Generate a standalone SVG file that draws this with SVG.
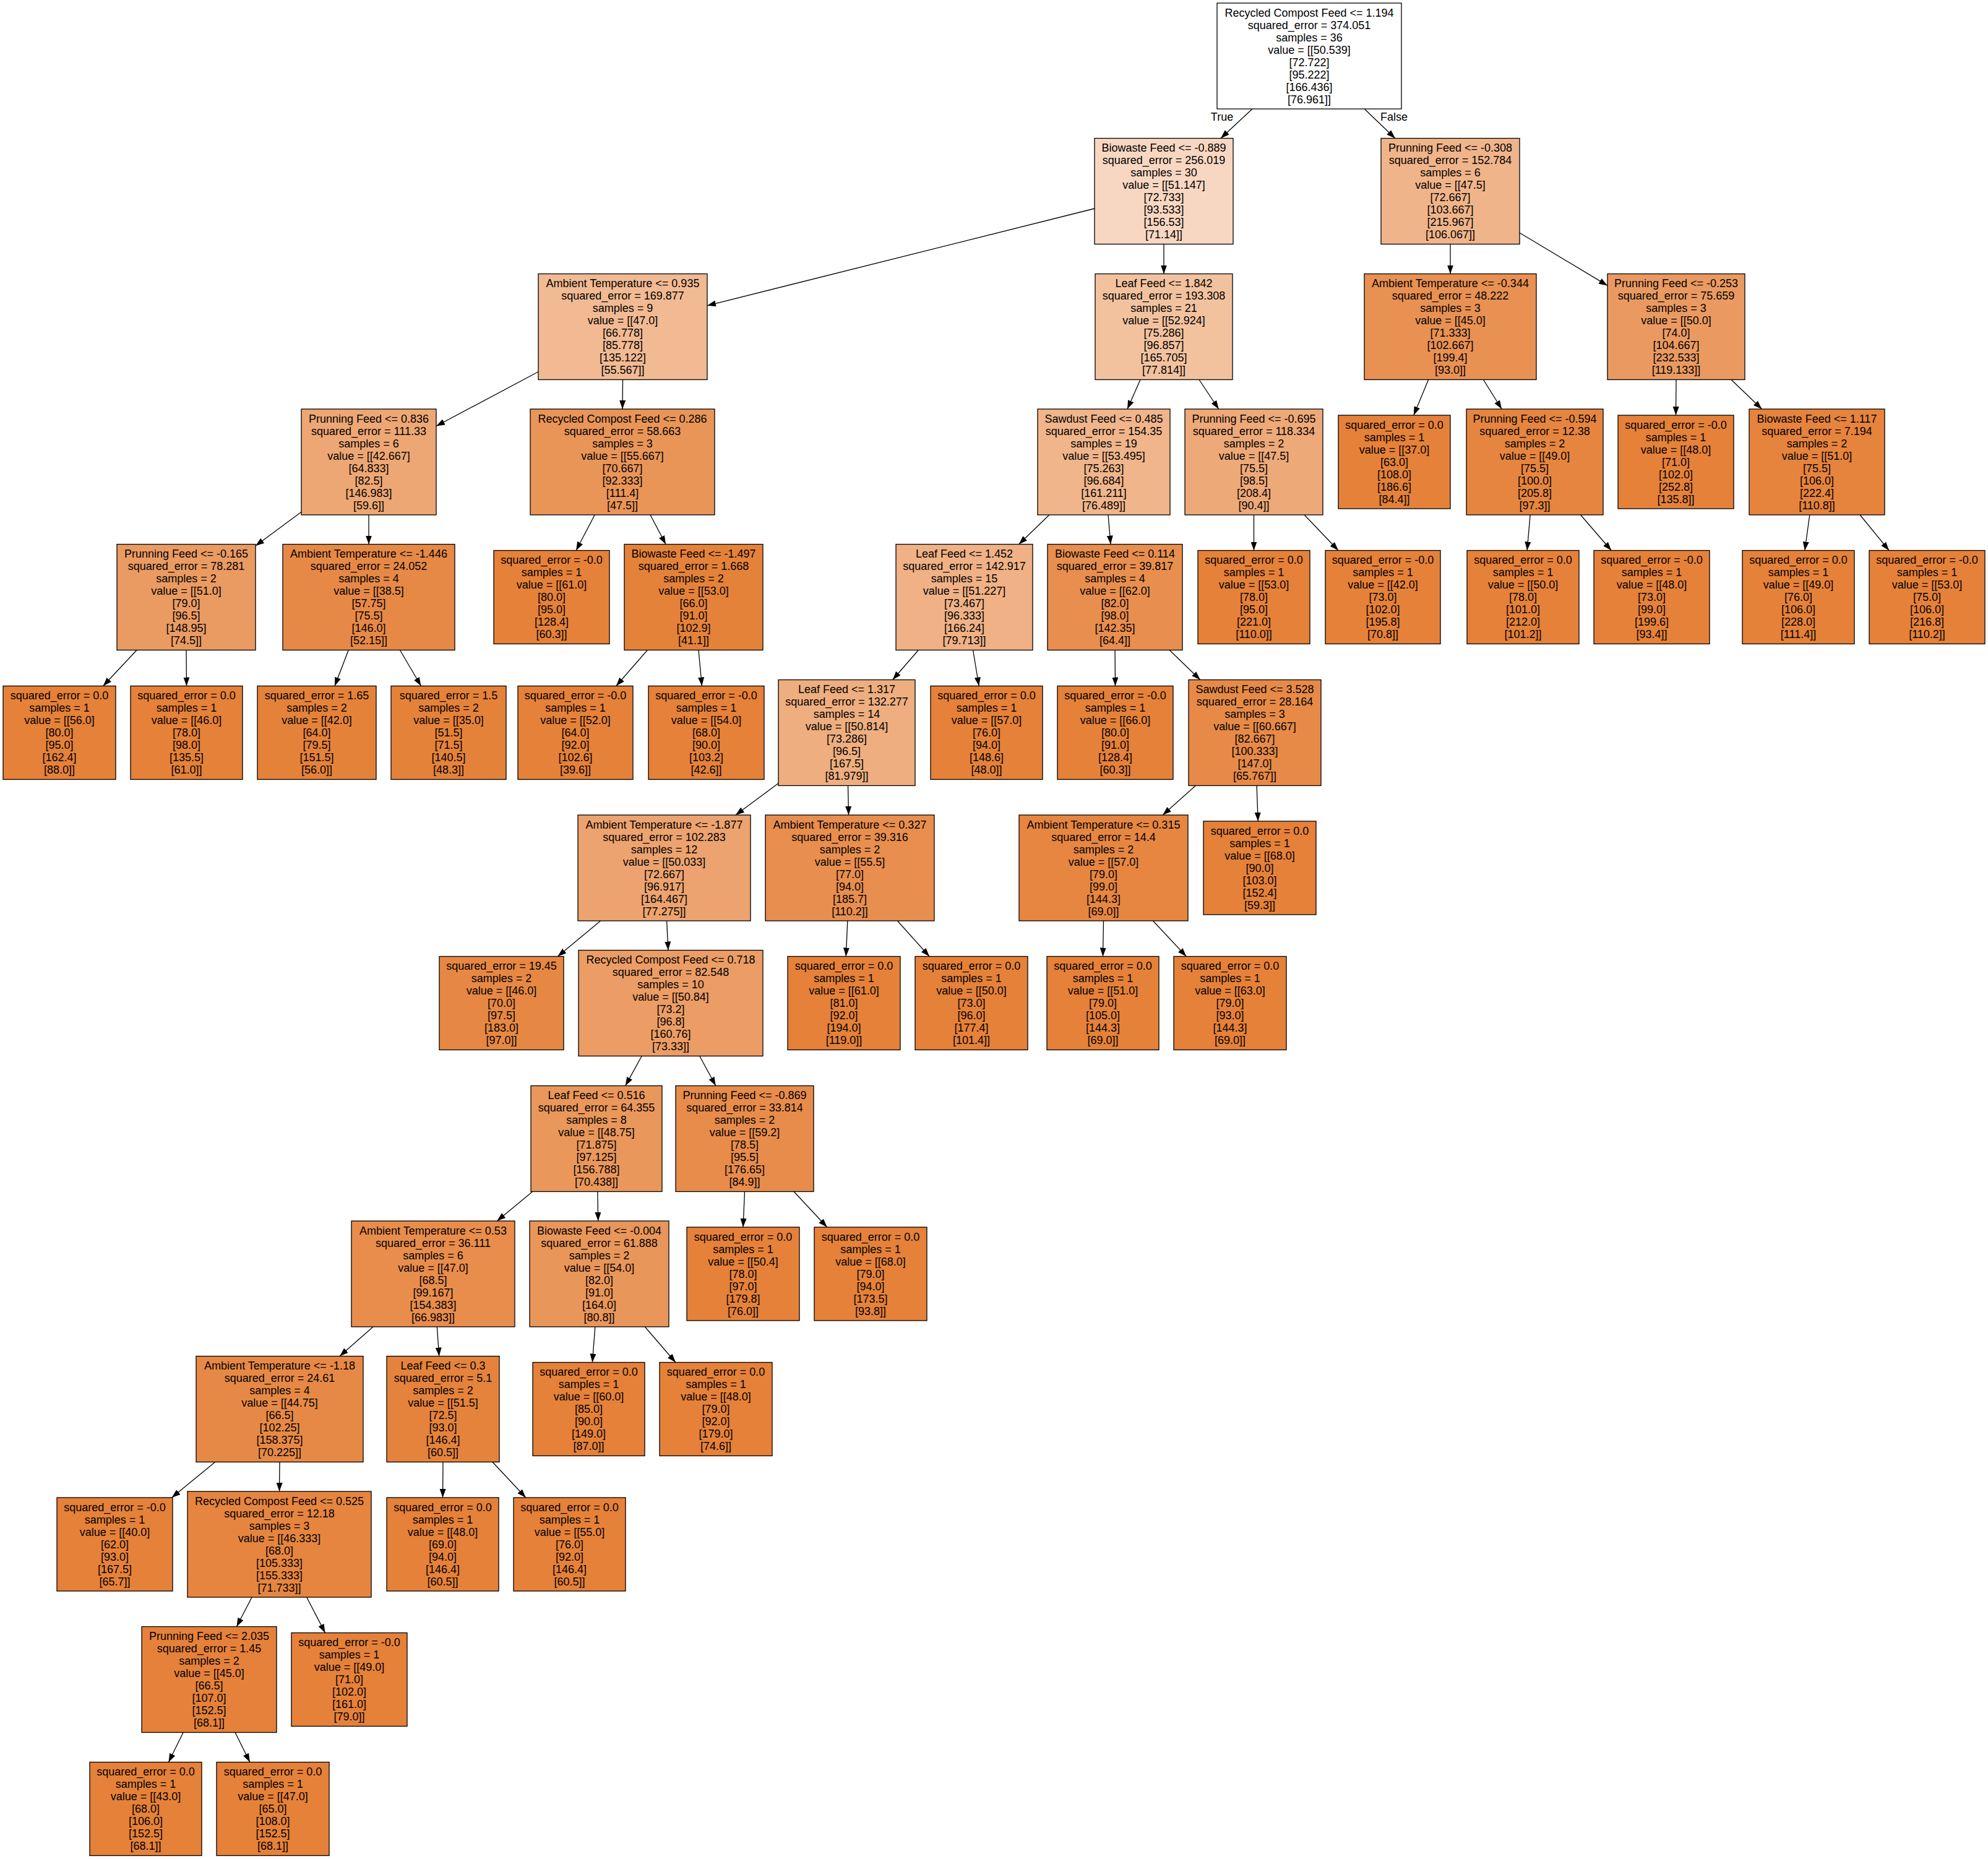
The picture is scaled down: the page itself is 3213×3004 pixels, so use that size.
<svg xmlns="http://www.w3.org/2000/svg" width="3213" height="3004" viewBox="0 0 3213 3004">
<style>
rect.b{stroke:#000;stroke-width:1.3}
text{font-family:"Liberation Sans",Arial,Helvetica,sans-serif;font-size:18px;text-anchor:middle;fill:#000}
line.e{stroke:#000;stroke-width:1.3;fill:none;marker-end:url(#ah)}
</style>
<defs>
<marker id="ah" markerUnits="userSpaceOnUse" markerWidth="15" markerHeight="11" refX="14" refY="5" orient="auto"><path d="M0,0 L14,5 L0,10 z" fill="#000"/></marker>
</defs>
<rect x="0" y="0" width="3213" height="3004" fill="#fff"/>
<g id="edges">
<line class="e" x1="2024" y1="176" x2="1973" y2="223.5"/>
<line class="e" x1="2205.2" y1="176" x2="2254.8" y2="223.5"/>
<line class="e" x1="1769" y1="337" x2="1143" y2="493.8"/>
<line class="e" x1="1881" y1="394.5" x2="1881" y2="442.5"/>
<line class="e" x1="2344" y1="394.5" x2="2344" y2="442.5"/>
<line class="e" x1="2456" y1="376.2" x2="2598" y2="461.4"/>
<line class="e" x1="870" y1="600.7" x2="705" y2="688.5"/>
<line class="e" x1="1006.5" y1="613.5" x2="1006" y2="661"/>
<line class="e" x1="1843" y1="613.5" x2="1822" y2="661"/>
<line class="e" x1="1938" y1="613.5" x2="1969.6" y2="661"/>
<line class="e" x1="2308.6" y1="613.5" x2="2284.8" y2="671"/>
<line class="e" x1="2397.4" y1="613.5" x2="2427.1" y2="661"/>
<line class="e" x1="2709" y1="613.5" x2="2708.5" y2="671"/>
<line class="e" x1="2798" y1="613.5" x2="2847.5" y2="661"/>
<line class="e" x1="487" y1="827.2" x2="413" y2="882"/>
<line class="e" x1="596" y1="832" x2="596" y2="879.5"/>
<line class="e" x1="961.2" y1="832" x2="931.1" y2="889.5"/>
<line class="e" x1="1051" y1="832" x2="1076" y2="879.5"/>
<line class="e" x1="1695.8" y1="832" x2="1646.7" y2="879.5"/>
<line class="e" x1="1791" y1="832" x2="1795" y2="879.5"/>
<line class="e" x1="2026.5" y1="832" x2="2026.5" y2="889.5"/>
<line class="e" x1="2108.1" y1="832" x2="2163" y2="889.5"/>
<line class="e" x1="2473.1" y1="832" x2="2468.1" y2="889.5"/>
<line class="e" x1="2554.5" y1="832" x2="2604.2" y2="889.5"/>
<line class="e" x1="2924.8" y1="832" x2="2916.9" y2="889.5"/>
<line class="e" x1="3006.1" y1="832" x2="3053" y2="889.5"/>
<line class="e" x1="221" y1="1050.5" x2="166.7" y2="1108.5"/>
<line class="e" x1="301" y1="1050.5" x2="301.5" y2="1108.5"/>
<line class="e" x1="563.2" y1="1050.5" x2="541" y2="1108.5"/>
<line class="e" x1="646.4" y1="1050.5" x2="680.5" y2="1108.5"/>
<line class="e" x1="1046.4" y1="1050.5" x2="995.8" y2="1108.5"/>
<line class="e" x1="1129" y1="1050.5" x2="1134.4" y2="1108.5"/>
<line class="e" x1="1484.3" y1="1050.5" x2="1442.7" y2="1098.5"/>
<line class="e" x1="1572.6" y1="1050.5" x2="1582.1" y2="1108.5"/>
<line class="e" x1="1802" y1="1050.5" x2="1802.5" y2="1108.5"/>
<line class="e" x1="1890.2" y1="1050.5" x2="1939.8" y2="1098.5"/>
<line class="e" x1="1258" y1="1265.8" x2="1188.9" y2="1317"/>
<line class="e" x1="1370.5" y1="1269.5" x2="1371.5" y2="1317"/>
<line class="e" x1="1932.3" y1="1269.5" x2="1879.2" y2="1317"/>
<line class="e" x1="2031.1" y1="1269.5" x2="2033.2" y2="1327"/>
<line class="e" x1="970.6" y1="1488" x2="901.4" y2="1545.5"/>
<line class="e" x1="1077.6" y1="1488" x2="1079.9" y2="1535.5"/>
<line class="e" x1="1369.8" y1="1488" x2="1367.3" y2="1545.5"/>
<line class="e" x1="1450.4" y1="1488" x2="1502.1" y2="1545.5"/>
<line class="e" x1="1783.5" y1="1488" x2="1782.5" y2="1545.5"/>
<line class="e" x1="1863.5" y1="1488" x2="1917.3" y2="1545.5"/>
<line class="e" x1="1037.2" y1="1706.5" x2="1010.8" y2="1754.5"/>
<line class="e" x1="1130.7" y1="1706.5" x2="1156.8" y2="1754.5"/>
<line class="e" x1="860.7" y1="1925.5" x2="803.3" y2="1973"/>
<line class="e" x1="965.8" y1="1925.5" x2="966.7" y2="1973"/>
<line class="e" x1="1203.5" y1="1925.5" x2="1201" y2="1983"/>
<line class="e" x1="1283.1" y1="1925.5" x2="1336.7" y2="1983"/>
<line class="e" x1="603" y1="2144" x2="549" y2="2191.5"/>
<line class="e" x1="706.3" y1="2144" x2="709.7" y2="2191.5"/>
<line class="e" x1="961.8" y1="2144" x2="957.4" y2="2201.5"/>
<line class="e" x1="1042.3" y1="2144" x2="1091.9" y2="2201.5"/>
<line class="e" x1="347.7" y1="2362.5" x2="277.6" y2="2420"/>
<line class="e" x1="452" y1="2362.5" x2="451.5" y2="2410"/>
<line class="e" x1="716" y1="2362.5" x2="715.5" y2="2420"/>
<line class="e" x1="796" y1="2362.5" x2="849.8" y2="2420"/>
<line class="e" x1="407.1" y1="2581" x2="382.4" y2="2628.5"/>
<line class="e" x1="495.7" y1="2581" x2="525.5" y2="2638.5"/>
<line class="e" x1="296.1" y1="2799.5" x2="272.5" y2="2847.5"/>
<line class="e" x1="380.1" y1="2799.5" x2="403.8" y2="2847.5"/>
<text x="1975" y="195">True</text>
<text x="2253" y="195">False</text>
</g>
<g id="n0"><rect class="b" x="1967" y="5" width="298" height="171" fill="#ffffff"/><text x="2116" y="26.5"><tspan>Recycled Compost Feed &lt;= 1.194</tspan><tspan x="2116" dy="20">squared_error = 374.051</tspan><tspan x="2116" dy="20">samples = 36</tspan><tspan x="2116" dy="20">value = [[50.539]</tspan><tspan x="2116" dy="20">[72.722]</tspan><tspan x="2116" dy="20">[95.222]</tspan><tspan x="2116" dy="20">[166.436]</tspan><tspan x="2116" dy="20">[76.961]]</tspan></text></g>
<g id="n1"><rect class="b" x="1769" y="223.5" width="224" height="171" fill="#f7d7c1"/><text x="1881" y="245"><tspan>Biowaste Feed &lt;= -0.889</tspan><tspan x="1881" dy="20">squared_error = 256.019</tspan><tspan x="1881" dy="20">samples = 30</tspan><tspan x="1881" dy="20">value = [[51.147]</tspan><tspan x="1881" dy="20">[72.733]</tspan><tspan x="1881" dy="20">[93.533]</tspan><tspan x="1881" dy="20">[156.53]</tspan><tspan x="1881" dy="20">[71.14]]</tspan></text></g>
<g id="n2"><rect class="b" x="2232" y="223.5" width="224" height="171" fill="#f0b48a"/><text x="2344" y="245"><tspan>Prunning Feed &lt;= -0.308</tspan><tspan x="2344" dy="20">squared_error = 152.784</tspan><tspan x="2344" dy="20">samples = 6</tspan><tspan x="2344" dy="20">value = [[47.5]</tspan><tspan x="2344" dy="20">[72.667]</tspan><tspan x="2344" dy="20">[103.667]</tspan><tspan x="2344" dy="20">[215.967]</tspan><tspan x="2344" dy="20">[106.067]]</tspan></text></g>
<g id="n3"><rect class="b" x="870" y="442.5" width="273" height="171" fill="#f1ba93"/><text x="1006.5" y="464"><tspan>Ambient Temperature &lt;= 0.935</tspan><tspan x="1006.5" dy="20">squared_error = 169.877</tspan><tspan x="1006.5" dy="20">samples = 9</tspan><tspan x="1006.5" dy="20">value = [[47.0]</tspan><tspan x="1006.5" dy="20">[66.778]</tspan><tspan x="1006.5" dy="20">[85.778]</tspan><tspan x="1006.5" dy="20">[135.122]</tspan><tspan x="1006.5" dy="20">[55.567]]</tspan></text></g>
<g id="n4"><rect class="b" x="1770" y="442.5" width="222" height="171" fill="#f2c29f"/><text x="1881" y="464"><tspan>Leaf Feed &lt;= 1.842</tspan><tspan x="1881" dy="20">squared_error = 193.308</tspan><tspan x="1881" dy="20">samples = 21</tspan><tspan x="1881" dy="20">value = [[52.924]</tspan><tspan x="1881" dy="20">[75.286]</tspan><tspan x="1881" dy="20">[96.857]</tspan><tspan x="1881" dy="20">[165.705]</tspan><tspan x="1881" dy="20">[77.814]]</tspan></text></g>
<g id="n5"><rect class="b" x="2205" y="442.5" width="278" height="171" fill="#e89153"/><text x="2344" y="464"><tspan>Ambient Temperature &lt;= -0.344</tspan><tspan x="2344" dy="20">squared_error = 48.222</tspan><tspan x="2344" dy="20">samples = 3</tspan><tspan x="2344" dy="20">value = [[45.0]</tspan><tspan x="2344" dy="20">[71.333]</tspan><tspan x="2344" dy="20">[102.667]</tspan><tspan x="2344" dy="20">[199.4]</tspan><tspan x="2344" dy="20">[93.0]]</tspan></text></g>
<g id="n6"><rect class="b" x="2598" y="442.5" width="222" height="171" fill="#ea9a61"/><text x="2709" y="464"><tspan>Prunning Feed &lt;= -0.253</tspan><tspan x="2709" dy="20">squared_error = 75.659</tspan><tspan x="2709" dy="20">samples = 3</tspan><tspan x="2709" dy="20">value = [[50.0]</tspan><tspan x="2709" dy="20">[74.0]</tspan><tspan x="2709" dy="20">[104.667]</tspan><tspan x="2709" dy="20">[232.533]</tspan><tspan x="2709" dy="20">[119.133]]</tspan></text></g>
<g id="n7"><rect class="b" x="487" y="661" width="218" height="171" fill="#eda774"/><text x="596" y="682.5"><tspan>Prunning Feed &lt;= 0.836</tspan><tspan x="596" dy="20">squared_error = 111.33</tspan><tspan x="596" dy="20">samples = 6</tspan><tspan x="596" dy="20">value = [[42.667]</tspan><tspan x="596" dy="20">[64.833]</tspan><tspan x="596" dy="20">[82.5]</tspan><tspan x="596" dy="20">[146.983]</tspan><tspan x="596" dy="20">[59.6]]</tspan></text></g>
<g id="n8"><rect class="b" x="857" y="661" width="298" height="171" fill="#e99558"/><text x="1006" y="682.5"><tspan>Recycled Compost Feed &lt;= 0.286</tspan><tspan x="1006" dy="20">squared_error = 58.663</tspan><tspan x="1006" dy="20">samples = 3</tspan><tspan x="1006" dy="20">value = [[55.667]</tspan><tspan x="1006" dy="20">[70.667]</tspan><tspan x="1006" dy="20">[92.333]</tspan><tspan x="1006" dy="20">[111.4]</tspan><tspan x="1006" dy="20">[47.5]]</tspan></text></g>
<g id="n9"><rect class="b" x="1677" y="661" width="214" height="171" fill="#f0b58b"/><text x="1784" y="682.5"><tspan>Sawdust Feed &lt;= 0.485</tspan><tspan x="1784" dy="20">squared_error = 154.35</tspan><tspan x="1784" dy="20">samples = 19</tspan><tspan x="1784" dy="20">value = [[53.495]</tspan><tspan x="1784" dy="20">[75.263]</tspan><tspan x="1784" dy="20">[96.684]</tspan><tspan x="1784" dy="20">[161.211]</tspan><tspan x="1784" dy="20">[76.489]]</tspan></text></g>
<g id="n10"><rect class="b" x="1915" y="661" width="223" height="171" fill="#eda978"/><text x="2026.5" y="682.5"><tspan>Prunning Feed &lt;= -0.695</tspan><tspan x="2026.5" dy="20">squared_error = 118.334</tspan><tspan x="2026.5" dy="20">samples = 2</tspan><tspan x="2026.5" dy="20">value = [[47.5]</tspan><tspan x="2026.5" dy="20">[75.5]</tspan><tspan x="2026.5" dy="20">[98.5]</tspan><tspan x="2026.5" dy="20">[208.4]</tspan><tspan x="2026.5" dy="20">[90.4]]</tspan></text></g>
<g id="n11"><rect class="b" x="2163" y="671" width="181" height="151" fill="#e58139"/><text x="2253.5" y="692.5"><tspan>squared_error = 0.0</tspan><tspan x="2253.5" dy="20">samples = 1</tspan><tspan x="2253.5" dy="20">value = [[37.0]</tspan><tspan x="2253.5" dy="20">[63.0]</tspan><tspan x="2253.5" dy="20">[108.0]</tspan><tspan x="2253.5" dy="20">[186.6]</tspan><tspan x="2253.5" dy="20">[84.4]]</tspan></text></g>
<g id="n12"><rect class="b" x="2370" y="661" width="221" height="171" fill="#e6853f"/><text x="2480.5" y="682.5"><tspan>Prunning Feed &lt;= -0.594</tspan><tspan x="2480.5" dy="20">squared_error = 12.38</tspan><tspan x="2480.5" dy="20">samples = 2</tspan><tspan x="2480.5" dy="20">value = [[49.0]</tspan><tspan x="2480.5" dy="20">[75.5]</tspan><tspan x="2480.5" dy="20">[100.0]</tspan><tspan x="2480.5" dy="20">[205.8]</tspan><tspan x="2480.5" dy="20">[97.3]]</tspan></text></g>
<g id="n13"><rect class="b" x="2615" y="671" width="187" height="151" fill="#e58139"/><text x="2708.5" y="692.5"><tspan>squared_error = -0.0</tspan><tspan x="2708.5" dy="20">samples = 1</tspan><tspan x="2708.5" dy="20">value = [[48.0]</tspan><tspan x="2708.5" dy="20">[71.0]</tspan><tspan x="2708.5" dy="20">[102.0]</tspan><tspan x="2708.5" dy="20">[252.8]</tspan><tspan x="2708.5" dy="20">[135.8]]</tspan></text></g>
<g id="n14"><rect class="b" x="2827" y="661" width="219" height="171" fill="#e6833d"/><text x="2936.5" y="682.5"><tspan>Biowaste Feed &lt;= 1.117</tspan><tspan x="2936.5" dy="20">squared_error = 7.194</tspan><tspan x="2936.5" dy="20">samples = 2</tspan><tspan x="2936.5" dy="20">value = [[51.0]</tspan><tspan x="2936.5" dy="20">[75.5]</tspan><tspan x="2936.5" dy="20">[106.0]</tspan><tspan x="2936.5" dy="20">[222.4]</tspan><tspan x="2936.5" dy="20">[110.8]]</tspan></text></g>
<g id="n15"><rect class="b" x="189" y="879.5" width="224" height="171" fill="#ea9b62"/><text x="301" y="901"><tspan>Prunning Feed &lt;= -0.165</tspan><tspan x="301" dy="20">squared_error = 78.281</tspan><tspan x="301" dy="20">samples = 2</tspan><tspan x="301" dy="20">value = [[51.0]</tspan><tspan x="301" dy="20">[79.0]</tspan><tspan x="301" dy="20">[96.5]</tspan><tspan x="301" dy="20">[148.95]</tspan><tspan x="301" dy="20">[74.5]]</tspan></text></g>
<g id="n16"><rect class="b" x="457" y="879.5" width="278" height="171" fill="#e78946"/><text x="596" y="901"><tspan>Ambient Temperature &lt;= -1.446</tspan><tspan x="596" dy="20">squared_error = 24.052</tspan><tspan x="596" dy="20">samples = 4</tspan><tspan x="596" dy="20">value = [[38.5]</tspan><tspan x="596" dy="20">[57.75]</tspan><tspan x="596" dy="20">[75.5]</tspan><tspan x="596" dy="20">[146.0]</tspan><tspan x="596" dy="20">[52.15]]</tspan></text></g>
<g id="n17"><rect class="b" x="798" y="889.5" width="187" height="151" fill="#e58139"/><text x="891.5" y="911"><tspan>squared_error = -0.0</tspan><tspan x="891.5" dy="20">samples = 1</tspan><tspan x="891.5" dy="20">value = [[61.0]</tspan><tspan x="891.5" dy="20">[80.0]</tspan><tspan x="891.5" dy="20">[95.0]</tspan><tspan x="891.5" dy="20">[128.4]</tspan><tspan x="891.5" dy="20">[60.3]]</tspan></text></g>
<g id="n18"><rect class="b" x="1009" y="879.5" width="224" height="171" fill="#e5823a"/><text x="1121" y="901"><tspan>Biowaste Feed &lt;= -1.497</tspan><tspan x="1121" dy="20">squared_error = 1.668</tspan><tspan x="1121" dy="20">samples = 2</tspan><tspan x="1121" dy="20">value = [[53.0]</tspan><tspan x="1121" dy="20">[66.0]</tspan><tspan x="1121" dy="20">[91.0]</tspan><tspan x="1121" dy="20">[102.9]</tspan><tspan x="1121" dy="20">[41.1]]</tspan></text></g>
<g id="n19"><rect class="b" x="1448" y="879.5" width="221" height="171" fill="#efb185"/><text x="1558.5" y="901"><tspan>Leaf Feed &lt;= 1.452</tspan><tspan x="1558.5" dy="20">squared_error = 142.917</tspan><tspan x="1558.5" dy="20">samples = 15</tspan><tspan x="1558.5" dy="20">value = [[51.227]</tspan><tspan x="1558.5" dy="20">[73.467]</tspan><tspan x="1558.5" dy="20">[96.333]</tspan><tspan x="1558.5" dy="20">[166.24]</tspan><tspan x="1558.5" dy="20">[79.713]]</tspan></text></g>
<g id="n20"><rect class="b" x="1693" y="879.5" width="218" height="171" fill="#e88e4e"/><text x="1802" y="901"><tspan>Biowaste Feed &lt;= 0.114</tspan><tspan x="1802" dy="20">squared_error = 39.817</tspan><tspan x="1802" dy="20">samples = 4</tspan><tspan x="1802" dy="20">value = [[62.0]</tspan><tspan x="1802" dy="20">[82.0]</tspan><tspan x="1802" dy="20">[98.0]</tspan><tspan x="1802" dy="20">[142.35]</tspan><tspan x="1802" dy="20">[64.4]]</tspan></text></g>
<g id="n21"><rect class="b" x="1936" y="889.5" width="181" height="151" fill="#e58139"/><text x="2026.5" y="911"><tspan>squared_error = 0.0</tspan><tspan x="2026.5" dy="20">samples = 1</tspan><tspan x="2026.5" dy="20">value = [[53.0]</tspan><tspan x="2026.5" dy="20">[78.0]</tspan><tspan x="2026.5" dy="20">[95.0]</tspan><tspan x="2026.5" dy="20">[221.0]</tspan><tspan x="2026.5" dy="20">[110.0]]</tspan></text></g>
<g id="n22"><rect class="b" x="2142" y="889.5" width="186" height="151" fill="#e58139"/><text x="2235" y="911"><tspan>squared_error = -0.0</tspan><tspan x="2235" dy="20">samples = 1</tspan><tspan x="2235" dy="20">value = [[42.0]</tspan><tspan x="2235" dy="20">[73.0]</tspan><tspan x="2235" dy="20">[102.0]</tspan><tspan x="2235" dy="20">[195.8]</tspan><tspan x="2235" dy="20">[70.8]]</tspan></text></g>
<g id="n23"><rect class="b" x="2371" y="889.5" width="181" height="151" fill="#e58139"/><text x="2461.5" y="911"><tspan>squared_error = 0.0</tspan><tspan x="2461.5" dy="20">samples = 1</tspan><tspan x="2461.5" dy="20">value = [[50.0]</tspan><tspan x="2461.5" dy="20">[78.0]</tspan><tspan x="2461.5" dy="20">[101.0]</tspan><tspan x="2461.5" dy="20">[212.0]</tspan><tspan x="2461.5" dy="20">[101.2]]</tspan></text></g>
<g id="n24"><rect class="b" x="2576" y="889.5" width="187" height="151" fill="#e58139"/><text x="2669.5" y="911"><tspan>squared_error = -0.0</tspan><tspan x="2669.5" dy="20">samples = 1</tspan><tspan x="2669.5" dy="20">value = [[48.0]</tspan><tspan x="2669.5" dy="20">[73.0]</tspan><tspan x="2669.5" dy="20">[99.0]</tspan><tspan x="2669.5" dy="20">[199.6]</tspan><tspan x="2669.5" dy="20">[93.4]]</tspan></text></g>
<g id="n25"><rect class="b" x="2816" y="889.5" width="181" height="151" fill="#e58139"/><text x="2906.5" y="911"><tspan>squared_error = 0.0</tspan><tspan x="2906.5" dy="20">samples = 1</tspan><tspan x="2906.5" dy="20">value = [[49.0]</tspan><tspan x="2906.5" dy="20">[76.0]</tspan><tspan x="2906.5" dy="20">[106.0]</tspan><tspan x="2906.5" dy="20">[228.0]</tspan><tspan x="2906.5" dy="20">[111.4]]</tspan></text></g>
<g id="n26"><rect class="b" x="3021" y="889.5" width="187" height="151" fill="#e58139"/><text x="3114.5" y="911"><tspan>squared_error = -0.0</tspan><tspan x="3114.5" dy="20">samples = 1</tspan><tspan x="3114.5" dy="20">value = [[53.0]</tspan><tspan x="3114.5" dy="20">[75.0]</tspan><tspan x="3114.5" dy="20">[106.0]</tspan><tspan x="3114.5" dy="20">[216.8]</tspan><tspan x="3114.5" dy="20">[110.2]]</tspan></text></g>
<g id="n27"><rect class="b" x="5" y="1108.5" width="182" height="151" fill="#e58139"/><text x="96" y="1130"><tspan>squared_error = 0.0</tspan><tspan x="96" dy="20">samples = 1</tspan><tspan x="96" dy="20">value = [[56.0]</tspan><tspan x="96" dy="20">[80.0]</tspan><tspan x="96" dy="20">[95.0]</tspan><tspan x="96" dy="20">[162.4]</tspan><tspan x="96" dy="20">[88.0]]</tspan></text></g>
<g id="n28"><rect class="b" x="211" y="1108.5" width="181" height="151" fill="#e58139"/><text x="301.5" y="1130"><tspan>squared_error = 0.0</tspan><tspan x="301.5" dy="20">samples = 1</tspan><tspan x="301.5" dy="20">value = [[46.0]</tspan><tspan x="301.5" dy="20">[78.0]</tspan><tspan x="301.5" dy="20">[98.0]</tspan><tspan x="301.5" dy="20">[135.5]</tspan><tspan x="301.5" dy="20">[61.0]]</tspan></text></g>
<g id="n29"><rect class="b" x="416" y="1108.5" width="192" height="151" fill="#e5823a"/><text x="512" y="1130"><tspan>squared_error = 1.65</tspan><tspan x="512" dy="20">samples = 2</tspan><tspan x="512" dy="20">value = [[42.0]</tspan><tspan x="512" dy="20">[64.0]</tspan><tspan x="512" dy="20">[79.5]</tspan><tspan x="512" dy="20">[151.5]</tspan><tspan x="512" dy="20">[56.0]]</tspan></text></g>
<g id="n30"><rect class="b" x="632" y="1108.5" width="186" height="151" fill="#e5823a"/><text x="725" y="1130"><tspan>squared_error = 1.5</tspan><tspan x="725" dy="20">samples = 2</tspan><tspan x="725" dy="20">value = [[35.0]</tspan><tspan x="725" dy="20">[51.5]</tspan><tspan x="725" dy="20">[71.5]</tspan><tspan x="725" dy="20">[140.5]</tspan><tspan x="725" dy="20">[48.3]]</tspan></text></g>
<g id="n31"><rect class="b" x="837" y="1108.5" width="186" height="151" fill="#e58139"/><text x="930" y="1130"><tspan>squared_error = -0.0</tspan><tspan x="930" dy="20">samples = 1</tspan><tspan x="930" dy="20">value = [[52.0]</tspan><tspan x="930" dy="20">[64.0]</tspan><tspan x="930" dy="20">[92.0]</tspan><tspan x="930" dy="20">[102.6]</tspan><tspan x="930" dy="20">[39.6]]</tspan></text></g>
<g id="n32"><rect class="b" x="1048" y="1108.5" width="187" height="151" fill="#e58139"/><text x="1141.5" y="1130"><tspan>squared_error = -0.0</tspan><tspan x="1141.5" dy="20">samples = 1</tspan><tspan x="1141.5" dy="20">value = [[54.0]</tspan><tspan x="1141.5" dy="20">[68.0]</tspan><tspan x="1141.5" dy="20">[90.0]</tspan><tspan x="1141.5" dy="20">[103.2]</tspan><tspan x="1141.5" dy="20">[42.6]]</tspan></text></g>
<g id="n33"><rect class="b" x="1258" y="1098.5" width="221" height="171" fill="#eeae7f"/><text x="1368.5" y="1120"><tspan>Leaf Feed &lt;= 1.317</tspan><tspan x="1368.5" dy="20">squared_error = 132.277</tspan><tspan x="1368.5" dy="20">samples = 14</tspan><tspan x="1368.5" dy="20">value = [[50.814]</tspan><tspan x="1368.5" dy="20">[73.286]</tspan><tspan x="1368.5" dy="20">[96.5]</tspan><tspan x="1368.5" dy="20">[167.5]</tspan><tspan x="1368.5" dy="20">[81.979]]</tspan></text></g>
<g id="n34"><rect class="b" x="1504" y="1108.5" width="181" height="151" fill="#e58139"/><text x="1594.5" y="1130"><tspan>squared_error = 0.0</tspan><tspan x="1594.5" dy="20">samples = 1</tspan><tspan x="1594.5" dy="20">value = [[57.0]</tspan><tspan x="1594.5" dy="20">[76.0]</tspan><tspan x="1594.5" dy="20">[94.0]</tspan><tspan x="1594.5" dy="20">[148.6]</tspan><tspan x="1594.5" dy="20">[48.0]]</tspan></text></g>
<g id="n35"><rect class="b" x="1709" y="1108.5" width="187" height="151" fill="#e58139"/><text x="1802.5" y="1130"><tspan>squared_error = -0.0</tspan><tspan x="1802.5" dy="20">samples = 1</tspan><tspan x="1802.5" dy="20">value = [[66.0]</tspan><tspan x="1802.5" dy="20">[80.0]</tspan><tspan x="1802.5" dy="20">[91.0]</tspan><tspan x="1802.5" dy="20">[128.4]</tspan><tspan x="1802.5" dy="20">[60.3]]</tspan></text></g>
<g id="n36"><rect class="b" x="1921" y="1098.5" width="214" height="171" fill="#e78a48"/><text x="2028" y="1120"><tspan>Sawdust Feed &lt;= 3.528</tspan><tspan x="2028" dy="20">squared_error = 28.164</tspan><tspan x="2028" dy="20">samples = 3</tspan><tspan x="2028" dy="20">value = [[60.667]</tspan><tspan x="2028" dy="20">[82.667]</tspan><tspan x="2028" dy="20">[100.333]</tspan><tspan x="2028" dy="20">[147.0]</tspan><tspan x="2028" dy="20">[65.767]]</tspan></text></g>
<g id="n37"><rect class="b" x="934" y="1317" width="279" height="171" fill="#eca36f"/><text x="1073.5" y="1338.5"><tspan>Ambient Temperature &lt;= -1.877</tspan><tspan x="1073.5" dy="20">squared_error = 102.283</tspan><tspan x="1073.5" dy="20">samples = 12</tspan><tspan x="1073.5" dy="20">value = [[50.033]</tspan><tspan x="1073.5" dy="20">[72.667]</tspan><tspan x="1073.5" dy="20">[96.917]</tspan><tspan x="1073.5" dy="20">[164.467]</tspan><tspan x="1073.5" dy="20">[77.275]]</tspan></text></g>
<g id="n38"><rect class="b" x="1237" y="1317" width="273" height="171" fill="#e88e4e"/><text x="1373.5" y="1338.5"><tspan>Ambient Temperature &lt;= 0.327</tspan><tspan x="1373.5" dy="20">squared_error = 39.316</tspan><tspan x="1373.5" dy="20">samples = 2</tspan><tspan x="1373.5" dy="20">value = [[55.5]</tspan><tspan x="1373.5" dy="20">[77.0]</tspan><tspan x="1373.5" dy="20">[94.0]</tspan><tspan x="1373.5" dy="20">[185.7]</tspan><tspan x="1373.5" dy="20">[110.2]]</tspan></text></g>
<g id="n39"><rect class="b" x="1647" y="1317" width="273" height="171" fill="#e68641"/><text x="1783.5" y="1338.5"><tspan>Ambient Temperature &lt;= 0.315</tspan><tspan x="1783.5" dy="20">squared_error = 14.4</tspan><tspan x="1783.5" dy="20">samples = 2</tspan><tspan x="1783.5" dy="20">value = [[57.0]</tspan><tspan x="1783.5" dy="20">[79.0]</tspan><tspan x="1783.5" dy="20">[99.0]</tspan><tspan x="1783.5" dy="20">[144.3]</tspan><tspan x="1783.5" dy="20">[69.0]]</tspan></text></g>
<g id="n40"><rect class="b" x="1945" y="1327" width="182" height="151" fill="#e58139"/><text x="2036" y="1348.5"><tspan>squared_error = 0.0</tspan><tspan x="2036" dy="20">samples = 1</tspan><tspan x="2036" dy="20">value = [[68.0]</tspan><tspan x="2036" dy="20">[90.0]</tspan><tspan x="2036" dy="20">[103.0]</tspan><tspan x="2036" dy="20">[152.4]</tspan><tspan x="2036" dy="20">[59.3]]</tspan></text></g>
<g id="n41"><rect class="b" x="710" y="1545.5" width="201" height="151" fill="#e68843"/><text x="810.5" y="1567"><tspan>squared_error = 19.45</tspan><tspan x="810.5" dy="20">samples = 2</tspan><tspan x="810.5" dy="20">value = [[46.0]</tspan><tspan x="810.5" dy="20">[70.0]</tspan><tspan x="810.5" dy="20">[97.5]</tspan><tspan x="810.5" dy="20">[183.0]</tspan><tspan x="810.5" dy="20">[97.0]]</tspan></text></g>
<g id="n42"><rect class="b" x="935" y="1535.5" width="298" height="171" fill="#eb9d65"/><text x="1084" y="1557"><tspan>Recycled Compost Feed &lt;= 0.718</tspan><tspan x="1084" dy="20">squared_error = 82.548</tspan><tspan x="1084" dy="20">samples = 10</tspan><tspan x="1084" dy="20">value = [[50.84]</tspan><tspan x="1084" dy="20">[73.2]</tspan><tspan x="1084" dy="20">[96.8]</tspan><tspan x="1084" dy="20">[160.76]</tspan><tspan x="1084" dy="20">[73.33]]</tspan></text></g>
<g id="n43"><rect class="b" x="1273" y="1545.5" width="182" height="151" fill="#e58139"/><text x="1364" y="1567"><tspan>squared_error = 0.0</tspan><tspan x="1364" dy="20">samples = 1</tspan><tspan x="1364" dy="20">value = [[61.0]</tspan><tspan x="1364" dy="20">[81.0]</tspan><tspan x="1364" dy="20">[92.0]</tspan><tspan x="1364" dy="20">[194.0]</tspan><tspan x="1364" dy="20">[119.0]]</tspan></text></g>
<g id="n44"><rect class="b" x="1479" y="1545.5" width="182" height="151" fill="#e58139"/><text x="1570" y="1567"><tspan>squared_error = 0.0</tspan><tspan x="1570" dy="20">samples = 1</tspan><tspan x="1570" dy="20">value = [[50.0]</tspan><tspan x="1570" dy="20">[73.0]</tspan><tspan x="1570" dy="20">[96.0]</tspan><tspan x="1570" dy="20">[177.4]</tspan><tspan x="1570" dy="20">[101.4]]</tspan></text></g>
<g id="n45"><rect class="b" x="1692" y="1545.5" width="181" height="151" fill="#e58139"/><text x="1782.5" y="1567"><tspan>squared_error = 0.0</tspan><tspan x="1782.5" dy="20">samples = 1</tspan><tspan x="1782.5" dy="20">value = [[51.0]</tspan><tspan x="1782.5" dy="20">[79.0]</tspan><tspan x="1782.5" dy="20">[105.0]</tspan><tspan x="1782.5" dy="20">[144.3]</tspan><tspan x="1782.5" dy="20">[69.0]]</tspan></text></g>
<g id="n46"><rect class="b" x="1897" y="1545.5" width="182" height="151" fill="#e58139"/><text x="1988" y="1567"><tspan>squared_error = 0.0</tspan><tspan x="1988" dy="20">samples = 1</tspan><tspan x="1988" dy="20">value = [[63.0]</tspan><tspan x="1988" dy="20">[79.0]</tspan><tspan x="1988" dy="20">[93.0]</tspan><tspan x="1988" dy="20">[144.3]</tspan><tspan x="1988" dy="20">[69.0]]</tspan></text></g>
<g id="n47"><rect class="b" x="858" y="1754.5" width="212" height="171" fill="#e9975b"/><text x="964" y="1776"><tspan>Leaf Feed &lt;= 0.516</tspan><tspan x="964" dy="20">squared_error = 64.355</tspan><tspan x="964" dy="20">samples = 8</tspan><tspan x="964" dy="20">value = [[48.75]</tspan><tspan x="964" dy="20">[71.875]</tspan><tspan x="964" dy="20">[97.125]</tspan><tspan x="964" dy="20">[156.788]</tspan><tspan x="964" dy="20">[70.438]]</tspan></text></g>
<g id="n48"><rect class="b" x="1092" y="1754.5" width="223" height="171" fill="#e78c4b"/><text x="1203.5" y="1776"><tspan>Prunning Feed &lt;= -0.869</tspan><tspan x="1203.5" dy="20">squared_error = 33.814</tspan><tspan x="1203.5" dy="20">samples = 2</tspan><tspan x="1203.5" dy="20">value = [[59.2]</tspan><tspan x="1203.5" dy="20">[78.5]</tspan><tspan x="1203.5" dy="20">[95.5]</tspan><tspan x="1203.5" dy="20">[176.65]</tspan><tspan x="1203.5" dy="20">[84.9]]</tspan></text></g>
<g id="n49"><rect class="b" x="568" y="1973" width="264" height="171" fill="#e88d4c"/><text x="700" y="1994.5"><tspan>Ambient Temperature &lt;= 0.53</tspan><tspan x="700" dy="20">squared_error = 36.111</tspan><tspan x="700" dy="20">samples = 6</tspan><tspan x="700" dy="20">value = [[47.0]</tspan><tspan x="700" dy="20">[68.5]</tspan><tspan x="700" dy="20">[99.167]</tspan><tspan x="700" dy="20">[154.383]</tspan><tspan x="700" dy="20">[66.983]]</tspan></text></g>
<g id="n50"><rect class="b" x="856" y="1973" width="225" height="171" fill="#e9965a"/><text x="968.5" y="1994.5"><tspan>Biowaste Feed &lt;= -0.004</tspan><tspan x="968.5" dy="20">squared_error = 61.888</tspan><tspan x="968.5" dy="20">samples = 2</tspan><tspan x="968.5" dy="20">value = [[54.0]</tspan><tspan x="968.5" dy="20">[82.0]</tspan><tspan x="968.5" dy="20">[91.0]</tspan><tspan x="968.5" dy="20">[164.0]</tspan><tspan x="968.5" dy="20">[80.8]]</tspan></text></g>
<g id="n51"><rect class="b" x="1110" y="1983" width="182" height="151" fill="#e58139"/><text x="1201" y="2004.5"><tspan>squared_error = 0.0</tspan><tspan x="1201" dy="20">samples = 1</tspan><tspan x="1201" dy="20">value = [[50.4]</tspan><tspan x="1201" dy="20">[78.0]</tspan><tspan x="1201" dy="20">[97.0]</tspan><tspan x="1201" dy="20">[179.8]</tspan><tspan x="1201" dy="20">[76.0]]</tspan></text></g>
<g id="n52"><rect class="b" x="1316" y="1983" width="182" height="151" fill="#e58139"/><text x="1407" y="2004.5"><tspan>squared_error = 0.0</tspan><tspan x="1407" dy="20">samples = 1</tspan><tspan x="1407" dy="20">value = [[68.0]</tspan><tspan x="1407" dy="20">[79.0]</tspan><tspan x="1407" dy="20">[94.0]</tspan><tspan x="1407" dy="20">[173.5]</tspan><tspan x="1407" dy="20">[93.8]]</tspan></text></g>
<g id="n53"><rect class="b" x="317" y="2191.5" width="270" height="171" fill="#e78946"/><text x="452" y="2213"><tspan>Ambient Temperature &lt;= -1.18</tspan><tspan x="452" dy="20">squared_error = 24.61</tspan><tspan x="452" dy="20">samples = 4</tspan><tspan x="452" dy="20">value = [[44.75]</tspan><tspan x="452" dy="20">[66.5]</tspan><tspan x="452" dy="20">[102.25]</tspan><tspan x="452" dy="20">[158.375]</tspan><tspan x="452" dy="20">[70.225]]</tspan></text></g>
<g id="n54"><rect class="b" x="625" y="2191.5" width="182" height="171" fill="#e5833c"/><text x="716" y="2213"><tspan>Leaf Feed &lt;= 0.3</tspan><tspan x="716" dy="20">squared_error = 5.1</tspan><tspan x="716" dy="20">samples = 2</tspan><tspan x="716" dy="20">value = [[51.5]</tspan><tspan x="716" dy="20">[72.5]</tspan><tspan x="716" dy="20">[93.0]</tspan><tspan x="716" dy="20">[146.4]</tspan><tspan x="716" dy="20">[60.5]]</tspan></text></g>
<g id="n55"><rect class="b" x="861" y="2201.5" width="181" height="151" fill="#e58139"/><text x="951.5" y="2223"><tspan>squared_error = 0.0</tspan><tspan x="951.5" dy="20">samples = 1</tspan><tspan x="951.5" dy="20">value = [[60.0]</tspan><tspan x="951.5" dy="20">[85.0]</tspan><tspan x="951.5" dy="20">[90.0]</tspan><tspan x="951.5" dy="20">[149.0]</tspan><tspan x="951.5" dy="20">[87.0]]</tspan></text></g>
<g id="n56"><rect class="b" x="1066" y="2201.5" width="182" height="151" fill="#e58139"/><text x="1157" y="2223"><tspan>squared_error = 0.0</tspan><tspan x="1157" dy="20">samples = 1</tspan><tspan x="1157" dy="20">value = [[48.0]</tspan><tspan x="1157" dy="20">[79.0]</tspan><tspan x="1157" dy="20">[92.0]</tspan><tspan x="1157" dy="20">[179.0]</tspan><tspan x="1157" dy="20">[74.6]]</tspan></text></g>
<g id="n57"><rect class="b" x="92" y="2420" width="187" height="151" fill="#e58139"/><text x="185.5" y="2441.5"><tspan>squared_error = -0.0</tspan><tspan x="185.5" dy="20">samples = 1</tspan><tspan x="185.5" dy="20">value = [[40.0]</tspan><tspan x="185.5" dy="20">[62.0]</tspan><tspan x="185.5" dy="20">[93.0]</tspan><tspan x="185.5" dy="20">[167.5]</tspan><tspan x="185.5" dy="20">[65.7]]</tspan></text></g>
<g id="n58"><rect class="b" x="303" y="2410" width="297" height="171" fill="#e6853f"/><text x="451.5" y="2431.5"><tspan>Recycled Compost Feed &lt;= 0.525</tspan><tspan x="451.5" dy="20">squared_error = 12.18</tspan><tspan x="451.5" dy="20">samples = 3</tspan><tspan x="451.5" dy="20">value = [[46.333]</tspan><tspan x="451.5" dy="20">[68.0]</tspan><tspan x="451.5" dy="20">[105.333]</tspan><tspan x="451.5" dy="20">[155.333]</tspan><tspan x="451.5" dy="20">[71.733]]</tspan></text></g>
<g id="n59"><rect class="b" x="625" y="2420" width="181" height="151" fill="#e58139"/><text x="715.5" y="2441.5"><tspan>squared_error = 0.0</tspan><tspan x="715.5" dy="20">samples = 1</tspan><tspan x="715.5" dy="20">value = [[48.0]</tspan><tspan x="715.5" dy="20">[69.0]</tspan><tspan x="715.5" dy="20">[94.0]</tspan><tspan x="715.5" dy="20">[146.4]</tspan><tspan x="715.5" dy="20">[60.5]]</tspan></text></g>
<g id="n60"><rect class="b" x="830" y="2420" width="181" height="151" fill="#e58139"/><text x="920.5" y="2441.5"><tspan>squared_error = 0.0</tspan><tspan x="920.5" dy="20">samples = 1</tspan><tspan x="920.5" dy="20">value = [[55.0]</tspan><tspan x="920.5" dy="20">[76.0]</tspan><tspan x="920.5" dy="20">[92.0]</tspan><tspan x="920.5" dy="20">[146.4]</tspan><tspan x="920.5" dy="20">[60.5]]</tspan></text></g>
<g id="n61"><rect class="b" x="229" y="2628.5" width="218" height="171" fill="#e5813a"/><text x="338" y="2650"><tspan>Prunning Feed &lt;= 2.035</tspan><tspan x="338" dy="20">squared_error = 1.45</tspan><tspan x="338" dy="20">samples = 2</tspan><tspan x="338" dy="20">value = [[45.0]</tspan><tspan x="338" dy="20">[66.5]</tspan><tspan x="338" dy="20">[107.0]</tspan><tspan x="338" dy="20">[152.5]</tspan><tspan x="338" dy="20">[68.1]]</tspan></text></g>
<g id="n62"><rect class="b" x="471" y="2638.5" width="187" height="151" fill="#e58139"/><text x="564.5" y="2660"><tspan>squared_error = -0.0</tspan><tspan x="564.5" dy="20">samples = 1</tspan><tspan x="564.5" dy="20">value = [[49.0]</tspan><tspan x="564.5" dy="20">[71.0]</tspan><tspan x="564.5" dy="20">[102.0]</tspan><tspan x="564.5" dy="20">[161.0]</tspan><tspan x="564.5" dy="20">[79.0]]</tspan></text></g>
<g id="n63"><rect class="b" x="145" y="2847.5" width="181" height="151" fill="#e58139"/><text x="235.5" y="2869"><tspan>squared_error = 0.0</tspan><tspan x="235.5" dy="20">samples = 1</tspan><tspan x="235.5" dy="20">value = [[43.0]</tspan><tspan x="235.5" dy="20">[68.0]</tspan><tspan x="235.5" dy="20">[106.0]</tspan><tspan x="235.5" dy="20">[152.5]</tspan><tspan x="235.5" dy="20">[68.1]]</tspan></text></g>
<g id="n64"><rect class="b" x="350" y="2847.5" width="182" height="151" fill="#e58139"/><text x="441" y="2869"><tspan>squared_error = 0.0</tspan><tspan x="441" dy="20">samples = 1</tspan><tspan x="441" dy="20">value = [[47.0]</tspan><tspan x="441" dy="20">[65.0]</tspan><tspan x="441" dy="20">[108.0]</tspan><tspan x="441" dy="20">[152.5]</tspan><tspan x="441" dy="20">[68.1]]</tspan></text></g>
</svg>
